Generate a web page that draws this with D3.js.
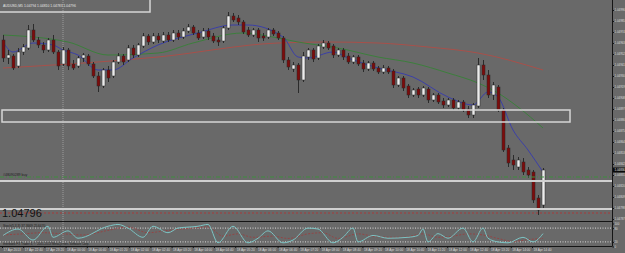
<!DOCTYPE html>
<html>
<head>
<meta charset="utf-8">
<script src="https://cdn.jsdelivr.net/npm/d3@7"></script>
<style>
  html, body { margin: 0; padding: 0; background: #696969; overflow: hidden; }
  svg { display: block; }
  text { font-family: "Liberation Sans", Arial, sans-serif; }
</style>
</head>
<body>
<div id="chart"></div>
<script>
// ---- candles (AUDUSD M5), one entry per bar ----
const open  = [1.04966,1.04948,1.04950,1.04940,1.04954,1.04958,1.04976,1.04966,1.04961,1.04956,1.04966,1.04954,1.04942,1.04956,1.04942,1.04940,1.04948,1.04950,1.04942,1.04930,
               1.04920,1.04936,1.04930,1.04944,1.04950,1.04946,1.04958,1.04951,1.04960,1.04970,1.04964,1.04970,1.04965,1.04971,1.04966,1.04973,1.04969,1.04975,1.04979,1.04973,
               1.04969,1.04975,1.04970,1.04966,1.04965,1.04978,1.04990,1.04988,1.04984,1.04976,1.04971,1.04976,1.04970,1.04969,1.04976,1.04973,1.04968,1.04946,1.04937,1.04941,
               1.04926,1.04949,1.04956,1.04948,1.04959,1.04963,1.04960,1.04951,1.04956,1.04950,1.04944,1.04949,1.04943,1.04937,1.04943,1.04938,1.04934,1.04938,1.04935,1.04921,
               1.04928,1.04920,1.04911,1.04917,1.04911,1.04917,1.04906,1.04911,1.04905,1.04901,1.04906,1.04898,1.04904,1.04897,1.04891,1.04900,1.04941,1.04931,1.04911,1.04919,
               1.04896,1.04858,1.04846,1.04839,1.04844,1.04836,1.04834,1.04808,1.04801];
const high  = [1.04971,1.04956,1.04952,1.04958,1.04962,1.04981,1.04982,1.04969,1.04964,1.04968,1.04971,1.04956,1.04959,1.04958,1.04946,1.04950,1.04953,1.04952,1.04944,1.04934,
               1.04938,1.04940,1.04946,1.04953,1.04952,1.04961,1.04961,1.04963,1.04973,1.04972,1.04973,1.04973,1.04974,1.04974,1.04976,1.04976,1.04978,1.04982,1.04981,1.04976,
               1.04978,1.04978,1.04973,1.04969,1.04980,1.04994,1.04993,1.04991,1.04986,1.04979,1.04978,1.04978,1.04973,1.04978,1.04978,1.04975,1.04970,1.04949,1.04944,1.04943,
               1.04954,1.04958,1.04958,1.04962,1.04966,1.04965,1.04962,1.04958,1.04958,1.04953,1.04951,1.04951,1.04946,1.04945,1.04945,1.04940,1.04941,1.04940,1.04937,1.04930,
               1.04930,1.04922,1.04918,1.04919,1.04920,1.04919,1.04913,1.04913,1.04908,1.04908,1.04908,1.04906,1.04906,1.04900,1.04903,1.04948,1.04946,1.04936,1.04924,1.04921,
               1.04898,1.04861,1.04851,1.04849,1.04848,1.04839,1.04836,1.04811,1.04838];
const low   = [1.04944,1.04942,1.04936,1.04938,1.04951,1.04956,1.04964,1.04958,1.04953,1.04954,1.04952,1.04936,1.04940,1.04936,1.04936,1.04938,1.04944,1.04940,1.04928,1.04914,
               1.04918,1.04924,1.04928,1.04942,1.04941,1.04944,1.04948,1.04949,1.04958,1.04961,1.04962,1.04963,1.04963,1.04964,1.04964,1.04966,1.04967,1.04973,1.04971,1.04966,
               1.04967,1.04966,1.04963,1.04960,1.04963,1.04976,1.04984,1.04981,1.04972,1.04969,1.04969,1.04964,1.04965,1.04967,1.04970,1.04966,1.04943,1.04936,1.04934,1.04913,
               1.04924,1.04946,1.04944,1.04946,1.04957,1.04956,1.04948,1.04949,1.04946,1.04942,1.04942,1.04940,1.04934,1.04935,1.04935,1.04932,1.04932,1.04932,1.04918,1.04919,
               1.04915,1.04908,1.04909,1.04908,1.04909,1.04903,1.04904,1.04902,1.04898,1.04899,1.04896,1.04896,1.04894,1.04888,1.04888,1.04898,1.04926,1.04908,1.04906,1.04894,
               1.04854,1.04839,1.04836,1.04836,1.04831,1.04828,1.04803,1.04791,1.04798];
const close = [1.04948,1.04951,1.04938,1.04954,1.04959,1.04976,1.04966,1.04961,1.04956,1.04966,1.04954,1.04940,1.04956,1.04940,1.04938,1.04948,1.04951,1.04942,1.04930,1.04920,
               1.04936,1.04928,1.04944,1.04950,1.04944,1.04958,1.04951,1.04961,1.04970,1.04964,1.04970,1.04966,1.04971,1.04966,1.04973,1.04969,1.04975,1.04979,1.04973,1.04968,
               1.04975,1.04969,1.04965,1.04964,1.04978,1.04990,1.04986,1.04984,1.04974,1.04971,1.04976,1.04968,1.04968,1.04976,1.04972,1.04968,1.04946,1.04939,1.04941,1.04926,
               1.04950,1.04956,1.04947,1.04960,1.04963,1.04958,1.04951,1.04956,1.04949,1.04944,1.04949,1.04942,1.04937,1.04943,1.04937,1.04934,1.04938,1.04934,1.04921,1.04928,
               1.04918,1.04911,1.04916,1.04911,1.04918,1.04906,1.04911,1.04904,1.04901,1.04906,1.04898,1.04904,1.04896,1.04891,1.04901,1.04941,1.04931,1.04911,1.04921,1.04896,
               1.04856,1.04843,1.04841,1.04846,1.04834,1.04831,1.04806,1.04796,1.04836];

// moving averages, read at some bars: [bar, price]
const maFast = [[0,1.04964],[2,1.04954],[6,1.04963],[10,1.04961],[12,1.04956],[15,1.04951],[19,1.04936],[22,1.04936],[26,1.04948],[31,1.04961],[39,1.04973],
                [46,1.04981],[49,1.04981],[56,1.04969],[59,1.04949],[61,1.04948],[66,1.04954],[69,1.04948],[75,1.04938],[82,1.04929],[89,1.04909],[94,1.04901],
                [97,1.04914],[99,1.04909],[102,1.04876],[105,1.04856],[108,1.04834]];
const maMid  = [[0,1.04971],[13,1.04964],[21,1.04951],[31,1.04953],[38,1.04963],[48,1.04973],[55,1.04968],[59,1.04964],[67,1.04958],[75,1.04949],
                [82,1.04943],[89,1.04933],[95,1.04923],[99,1.04913],[103,1.04899],[108,1.04878]];
const maSlow = [[0,1.04938],[31,1.04949],[55,1.04963],[65,1.04964],[75,1.04963],[85,1.04959],[95,1.04953],[108,1.04936]];

// stochastic (5,3,3): [bar, value]
const stochMain = [[0,48],[3,76],[6,28],[9,88],[10,40],[13,68],[15,36],[21,88],[23,96],[25,80],[28,40],[30,88],[33,60],[35,80],[39,88],[41,96],[43,16],
                   [46,88],[49,16],[51,36],[53,68],[56,16],[58,28],[61,80],[63,76],[66,16],[68,40],[70,80],[71,20],[74,48],[77,36],[81,40],[83,48],[84,76],
                   [85,20],[87,56],[89,36],[92,80],[94,20],[96,80],[97,36],[99,20],[101,16],[104,40],[106,20],[108,56]];
const stochSignal = [[0,50],[4,55],[8,60],[12,55],[16,50],[21,70],[25,85],[29,60],[33,70],[37,78],[41,85],[44,45],[47,55],[50,40],[54,45],[57,35],
                     [61,55],[64,60],[67,35],[71,55],[75,42],[80,40],[84,55],[87,40],[90,45],[93,55],[96,50],[99,35],[102,22],[105,30],[108,35]];
const stochLevels = [80, 20];

// axes
const priceTicks = [1.04996,1.04985,1.04974,1.04963,1.04952,1.04941,1.04930,1.04919,1.04908,1.04897,
                    1.04886,1.04875,1.04864,1.04853,1.04842,1.04831,1.04820,1.04809,1.04798,1.04787];
const timeTicks = ["2013-04-17 22:00","2013-04-17 22:40","2013-04-17 23:20","2013-04-18 00:00","2013-04-18 00:40","2013-04-18 01:20",
                   "2013-04-18 02:00","2013-04-18 02:40","2013-04-18 03:20","2013-04-18 04:00","2013-04-18 04:40","2013-04-18 05:20",
                   "2013-04-18 06:00","2013-04-18 06:40","2013-04-18 07:20","2013-04-18 08:00","2013-04-18 08:40","2013-04-18 09:20",
                   "2013-04-18 10:00","2013-04-18 10:40","2013-04-18 11:20","2013-04-18 12:00","2013-04-18 12:40","2013-04-18 13:20",
                   "2013-04-18 14:00","2013-04-18 14:40"];
const stochTicks = [100, 80, 20, 0];

// chart objects
const hLinesGray = [1.04825, 1.04797];
const buyLevel = 1.04829;
const stopLevel = 1.04793;
const boxes = [{b0: -1, b1: 29.4, p0: 1.05010, p1: 1.04994}, {b0: -0.2, b1: 113.4, p0: 1.04896, p1: 1.04884}];
const separatorBar = 12;

const W = 625, H = 253;
const plotRight = 612, mainBottom = 221, axisY = 246;

const svg = d3.select("#chart").append("svg")
    .attr("width", W)
    .attr("height", H);

svg.append("rect").attr("width", W).attr("height", H).attr("fill", "#696969");

const x = d3.scaleLinear().domain([0, close.length - 1]).range([3, 543]);
const y = d3.scaleLinear().domain([1.04785, 1.05006]).range([mainBottom, 0]);
const sy = d3.scaleLinear().domain([0, 100]).range([246.5, 223.5]);
const parseT = d3.timeParse("%Y-%m-%d %H:%M");
const times = timeTicks.map(parseT);
const t = d3.scaleTime().domain([times[0], times[times.length - 1]]).range([2, 532]);

const main = svg.append("g");

// period separator
main.append("line")
    .attr("x1", x(separatorBar)).attr("x2", x(separatorBar))
    .attr("y1", 0).attr("y2", axisY)
    .attr("stroke", "#9c9c9c").attr("stroke-dasharray", "1,1");

// moving averages
const maLine = d3.line().x(d => x(d[0])).y(d => y(d[1])).curve(d3.curveMonotoneX);
main.append("path").datum(maSlow).attr("d", maLine).attr("fill", "none").attr("stroke", "#a8504a").attr("stroke-width", 1);
main.append("path").datum(maMid).attr("d", maLine).attr("fill", "none").attr("stroke", "#3c7f3c").attr("stroke-width", 1);
main.append("path").datum(maFast).attr("d", maLine).attr("fill", "none").attr("stroke", "#3b3fa8").attr("stroke-width", 1);

// candles
const bars = d3.range(close.length);
const candle = main.selectAll(".candle").data(bars).enter().append("g").attr("class", "candle");
candle.append("line")
    .attr("x1", i => Math.round(x(i)) + 0.5).attr("x2", i => Math.round(x(i)) + 0.5)
    .attr("y1", i => y(high[i])).attr("y2", i => y(low[i]))
    .attr("stroke", "#2b2b2b");
candle.append("rect")
    .attr("x", i => Math.round(x(i)) - 1)
    .attr("width", 3)
    .attr("y", i => y(Math.max(open[i], close[i])))
    .attr("height", i => Math.max(1, Math.abs(y(open[i]) - y(close[i]))))
    .attr("fill", i => close[i] >= open[i] ? "#ececec" : "#7c0c0c")
    .attr("stroke", "#2b2b2b").attr("stroke-width", 0.5);

// horizontal objects
main.selectAll(".hgray").data(hLinesGray).enter().append("line")
    .attr("x1", 0).attr("x2", plotRight)
    .attr("y1", d => y(d)).attr("y2", d => y(d))
    .attr("stroke", "#cfcfcf").attr("stroke-width", 2);
main.append("line")
    .attr("x1", 0).attr("x2", plotRight).attr("y1", y(buyLevel)).attr("y2", y(buyLevel))
    .attr("stroke", "#3f8f3f").attr("stroke-dasharray", "4,2,1,2");
main.append("line")
    .attr("x1", 0).attr("x2", plotRight).attr("y1", y(stopLevel)).attr("y2", y(stopLevel))
    .attr("stroke", "#a83a3a").attr("stroke-dasharray", "2,2");

main.selectAll(".box").data(boxes).enter().append("rect")
    .attr("x", d => x(d.b0)).attr("width", d => x(d.b1) - x(d.b0))
    .attr("y", d => y(d.p0)).attr("height", d => y(d.p1) - y(d.p0))
    .attr("fill", "none").attr("stroke", "#d6d6d6").attr("stroke-width", 1.5);

// texts
main.append("text").attr("x", 3).attr("y", 6.5).attr("font-size", 3.4).attr("fill", "#e6e6e6")
    .text("AUDUSD,M5  1.04794 1.04810 1.04783 1.04796");
main.append("text").attr("x", 3).attr("y", y(buyLevel) - 1.5).attr("font-size", 3.5).attr("fill", "#1e1e1e")
    .text("#48090289 buy");
main.append("text").attr("x", 2).attr("y", 217).attr("font-size", 11).attr("fill", "#111")
    .text("1.04796");

// panel separator
svg.append("line").attr("x1", 0).attr("x2", plotRight).attr("y1", mainBottom + 0.5).attr("y2", mainBottom + 0.5)
    .attr("stroke", "#151515");

// stochastic window
const stoch = svg.append("g");
stoch.selectAll(".lvl").data(stochLevels).enter().append("line")
    .attr("x1", 0).attr("x2", plotRight).attr("y1", d => sy(d)).attr("y2", d => sy(d))
    .attr("stroke", "#d9d9d9").attr("stroke-dasharray", "1,1.5");
const sLine = d3.line().x(d => x(d[0])).y(d => sy(d[1])).curve(d3.curveMonotoneX);
stoch.append("path").datum(stochSignal).attr("d", sLine).attr("fill", "none")
    .attr("stroke", "#9c3c3c").attr("stroke-width", 0.8).attr("stroke-dasharray", "2,1.5");
stoch.append("path").datum(stochMain).attr("d", sLine).attr("fill", "none")
    .attr("stroke", "#7cc4c4").attr("stroke-width", 1);
stoch.append("text").attr("x", 3).attr("y", 226.5).attr("font-size", 3.2).attr("fill", "#1e1e1e")
    .text("Stoch(5,3,3) 37.3669 25.6470");
stoch.append("text").attr("x", 3).attr("y", 244.5).attr("font-size", 3).attr("fill", "#1e1e1e")
    .text("Interbank FX Trader 4, \u00a9 2001-2013 MetaQuotes Software Corp.");

// price axis
const pAxis = svg.append("g").attr("transform", `translate(${plotRight + 0.5},0)`)
    .call(d3.axisRight(y).tickValues(priceTicks).tickSize(1.5).tickFormat(d3.format(".5f")));
const sAxis = svg.append("g").attr("transform", `translate(${plotRight + 0.5},0)`)
    .call(d3.axisRight(sy).tickValues(stochTicks).tickSize(1.5));
[pAxis, sAxis].forEach(g => {
  g.select(".domain").remove();
  g.selectAll("line").attr("stroke", "#151515");
  g.selectAll("text").attr("font-size", 2.9).attr("fill", "#dcdcdc").attr("x", 2).attr("font-family", "Liberation Sans, Arial");
});
svg.append("line").attr("x1", plotRight + 0.5).attr("x2", plotRight + 0.5).attr("y1", 0).attr("y2", axisY)
    .attr("stroke", "#151515");

// current price label
const last = close[close.length - 1];
svg.append("rect").attr("x", plotRight + 1).attr("y", y(last) - 2.5).attr("width", 12).attr("height", 5).attr("fill", "#0a0a0a");
svg.append("text").attr("x", plotRight + 2.5).attr("y", y(last) + 1.1).attr("font-size", 2.9).attr("fill", "#f0f0f0")
    .text(d3.format(".5f")(last));

// time axis
const fmt = d3.timeFormat("%d %b %H:%M");
const tAxis = svg.append("g").attr("transform", `translate(0,${axisY})`)
    .call(d3.axisBottom(t).tickValues(times).tickSize(2)
      .tickFormat((d, i) => i === 0 ? d3.timeFormat("%d %b %Y")(d) : fmt(d)));
tAxis.select(".domain").remove();
tAxis.selectAll("line").attr("stroke", "#151515");
tAxis.selectAll("text").attr("font-size", 3.2).attr("fill", "#dcdcdc")
    .attr("text-anchor", "start").attr("x", 1).attr("y", 2.5).attr("dy", "0.71em");
svg.append("line").attr("x1", 0).attr("x2", plotRight + 0.5).attr("y1", axisY + 0.5).attr("y2", axisY + 0.5)
    .attr("stroke", "#151515");
</script>
</body>
</html>
